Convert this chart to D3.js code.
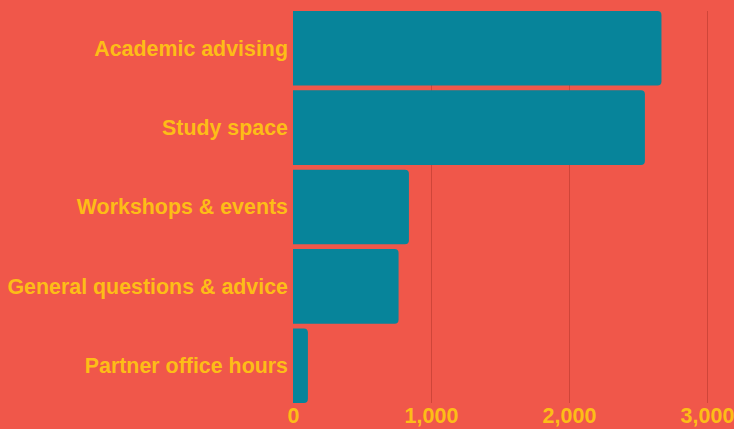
<!DOCTYPE html>
<html>
<head>
<meta charset="utf-8">
<script src="https://cdn.jsdelivr.net/npm/d3@7"></script>
<style>
  body { margin: 0; background: #F0574A; }
  svg { display: block; font-family: "Liberation Sans", Arial, sans-serif; }
</style>
</head>
<body>
<svg id="chart" width="734" height="429"></svg>
<script>
const categories = ["Academic advising", "Study space", "Workshops & events", "General questions & advice", "Partner office hours"];
const counts = [2670, 2550, 840, 765, 108];
const tickValues = [0, 1000, 2000, 3000];

const svg = d3.select("#chart");
const margin = { top: 11, left: 293, bottom: 26 };
const height = 429 - margin.top - margin.bottom;

const x = d3.scaleLinear().domain([0, 3000]).range([0, 414]);
const y = d3.scaleBand().domain(categories).range([0, height]).paddingInner(0.06).paddingOuter(0);

const g = svg.append("g").attr("transform", `translate(${margin.left},${margin.top})`);

// grid
g.selectAll("line.grid").data(tickValues.slice(1)).enter().append("line")
  .attr("class", "grid")
  .attr("x1", d => Math.round(x(d)) + 0.5).attr("x2", d => Math.round(x(d)) + 0.5)
  .attr("y1", 0).attr("y2", height)
  .attr("stroke", "#CF4539").attr("stroke-width", 1);

// bars with rounded right end only
const r = 4;
g.selectAll("path.bar").data(categories).enter().append("path")
  .attr("class", "bar")
  .attr("fill", "#07849A")
  .attr("d", (c, i) => {
    const w = x(counts[i]), y0 = y(c), h = y.bandwidth();
    return `M0,${y0}H${w - r}Q${w},${y0} ${w},${y0 + r}V${y0 + h - r}Q${w},${y0 + h} ${w - r},${y0 + h}H0Z`;
  });

// category labels
g.selectAll("text.cat").data(categories).enter().append("text")
  .attr("class", "cat")
  .attr("x", -5)
  .attr("y", c => y(c) + y.bandwidth() / 2)
  .attr("dy", "0.35em")
  .attr("text-anchor", "end")
  .attr("fill", "#FDBD17")
  .attr("font-size", 21.4)
  .attr("font-weight", "bold")
  .text(c => c);

// x axis
const xAxis = g.append("g")
  .attr("transform", `translate(0,${height})`)
  .call(d3.axisBottom(x).tickValues(tickValues).tickSize(0).tickPadding(5).tickFormat(d3.format(",")));
xAxis.select(".domain").remove();
xAxis.selectAll("text")
  .attr("fill", "#FDBD17")
  .attr("font-size", 21.5)
  .attr("font-weight", "bold")
  .attr("font-family", "Liberation Sans, Arial, sans-serif");
</script>
</body>
</html>
